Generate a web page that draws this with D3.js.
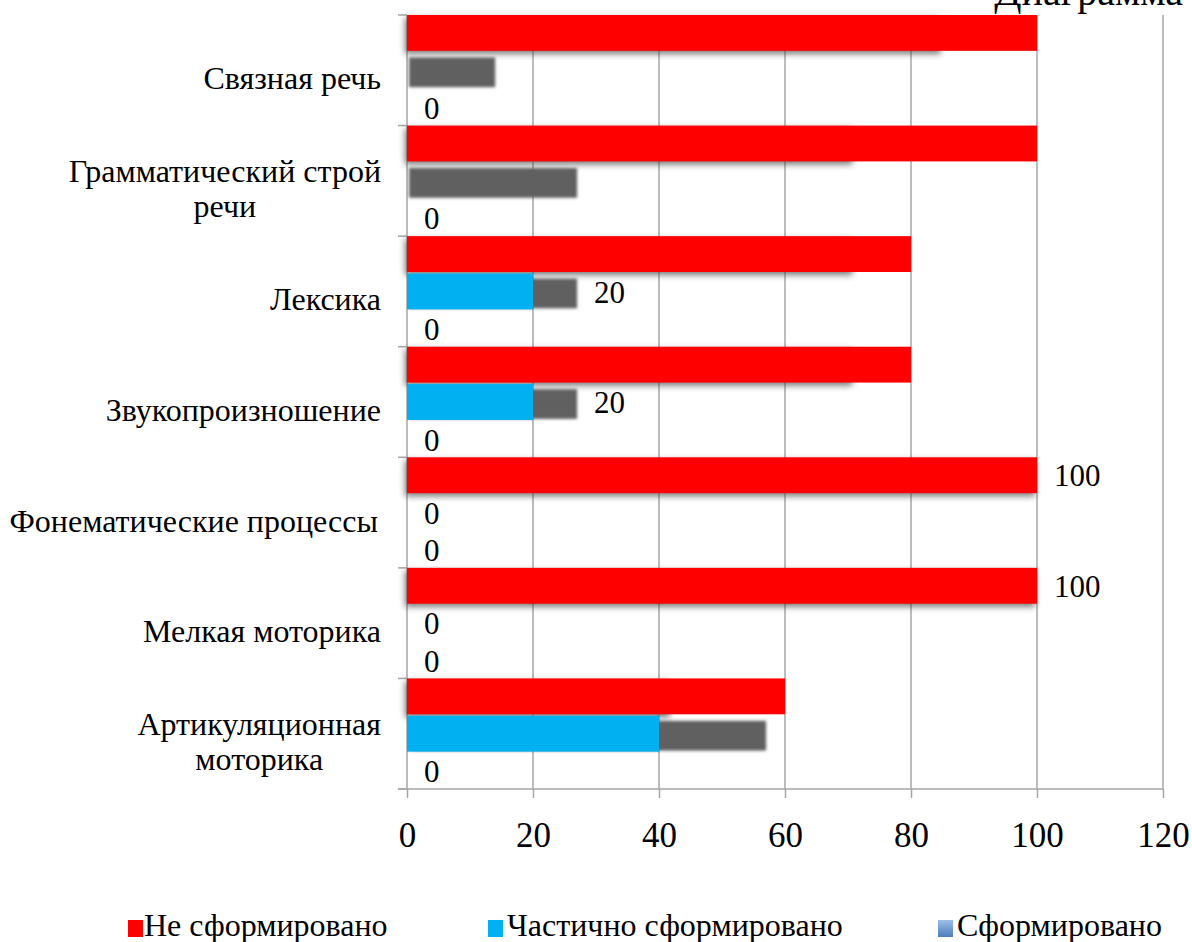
<!DOCTYPE html>
<html lang="ru">
<head>
  <meta charset="UTF-8">
  <title>Диаграмма</title>
  <script src="https://d3js.org/d3.v7.min.js"></script>
  <style>
    body { margin: 0; background: #fff; }
    svg { display: block; }
    svg text { font-family: "Liberation Serif", "Times New Roman", serif; }
  </style>
</head>
<body>
  <svg width="1192" height="942"></svg>
  <script>
    // categories in sheet order (first one is drawn at the bottom)
    const categories = [
      "Артикуляционная моторика",
      "Мелкая моторика",
      "Фонематические процессы",
      "Звукопроизношение",
      "Лексика",
      "Грамматический строй речи",
      "Связная речь"
    ];
    // how the category labels wrap
    const categoryLines = [
      ["Артикуляционная", "моторика"],
      ["Мелкая моторика"],
      ["Фонематические процессы"],
      ["Звукопроизношение"],
      ["Лексика"],
      ["Грамматический строй", "речи"],
      ["Связная речь"]
    ];
    const seriesNames = ["Не сформировано", "Частично сформировано", "Сформировано"];
    const notFormed = [60, 100, 100, 80, 80, 100, 100];
    const partlyFormed = [40, 0, 0, 20, 20, 0, 0];
    const formed = [0, 0, 0, 0, 0, 0, 0];
    // which data labels are visible in the picture
    const notFormedLabels = [false, true, true, false, false, false, false];
    const partlyFormedLabels = [false, true, true, true, true, false, false];
    const formedLabels = [true, true, true, true, true, true, true];
    // leftover shadows drawn behind bars
    const redShadow = [42, 100, 100, 71, 71, 71, 85];
    const grayShadow = [57, 0, 0, 27, 27, 27, 14];
    const xTicks = [0, 20, 40, 60, 80, 100, 120];

    const FONT = '"Liberation Serif", "Times New Roman", serif';

    const svg = d3.select("svg");
    const defs = svg.append("defs");

    const blurSoft = defs.append("filter").attr("id", "blurSoft")
      .attr("x", "-10%").attr("y", "-60%").attr("width", "120%").attr("height", "220%");
    blurSoft.append("feGaussianBlur").attr("stdDeviation", 3);

    const blurHard = defs.append("filter").attr("id", "blurHard")
      .attr("x", "-10%").attr("y", "-60%").attr("width", "120%").attr("height", "220%");
    blurHard.append("feGaussianBlur").attr("stdDeviation", 1.6);

    const grad = defs.append("linearGradient").attr("id", "formedGrad")
      .attr("x1", 0).attr("y1", 0).attr("x2", 0).attr("y2", 1);
    grad.append("stop").attr("offset", "0%").attr("stop-color", "#9dbfe8");
    grad.append("stop").attr("offset", "100%").attr("stop-color", "#4a7ebb");

    const colors = ["#ff0000", "#00b0f0", "url(#formedGrad)"];

    const x = d3.scaleLinear().domain([0, 120]).range([407, 1163]);
    const y = d3.scaleBand().domain(categories).range([789, 15]);
    const ys = d3.scaleBand().domain(seriesNames).range([0, y.bandwidth()]).paddingInner(0.04);

    const gridColor = "#a6a6a6";

    // vertical gridlines
    svg.append("g").selectAll("line").data(xTicks.slice(1)).join("line")
      .attr("x1", d => x(d)).attr("x2", d => x(d))
      .attr("y1", 15).attr("y2", 789)
      .attr("stroke", gridColor).attr("stroke-width", 1.5);

    // bottom axis
    const xAxis = svg.append("g")
      .attr("transform", "translate(0,789)")
      .call(d3.axisBottom(x).tickValues(xTicks).tickSize(9).tickPadding(24).tickSizeOuter(0))
      .attr("font-family", FONT).attr("font-size", 35);
    xAxis.select(".domain").remove();
    xAxis.selectAll(".tick line").attr("stroke", gridColor).attr("stroke-width", 1.5);
    xAxis.selectAll(".tick text").attr("fill", "#000");
    svg.append("line")
      .attr("x1", 398).attr("x2", x(120)).attr("y1", 789).attr("y2", 789)
      .attr("stroke", gridColor).attr("stroke-width", 1.5);

    // left axis with ticks between categories
    const bounds = categories.map(c => y(c)).concat([y(categories[0]) + y.bandwidth()]);
    svg.append("g").selectAll("line").data(bounds).join("line")
      .attr("x1", 398).attr("x2", x(0))
      .attr("y1", d => d).attr("y2", d => d)
      .attr("stroke", gridColor).attr("stroke-width", 1.5);
    svg.append("line")
      .attr("x1", x(0)).attr("x2", x(0)).attr("y1", 15).attr("y2", 789)
      .attr("stroke", gridColor).attr("stroke-width", 1.5);

    const rows = categories.map((c, i) => ({
      cat: c, i,
      values: [notFormed[i], partlyFormed[i], formed[i]],
      labels: [notFormedLabels[i], partlyFormedLabels[i], formedLabels[i]],
      shadows: [redShadow[i], grayShadow[i], 0]
    }));

    const groups = svg.append("g").selectAll("g").data(rows).join("g")
      .attr("transform", d => `translate(0,${y(d.cat)})`);

    const barH = ys.bandwidth();

    // soft shadow behind red bars
    groups.append("rect")
      .attr("x", x(0) - 2)
      .attr("y", ys(seriesNames[0]) + 3)
      .attr("width", d => x(d.shadows[0]) - x(0))
      .attr("height", barH)
      .attr("fill", "#404040").attr("opacity", 0.7)
      .attr("filter", "url(#blurSoft)");

    // dark gray shadow in the middle slot
    groups.filter(d => d.shadows[1] > 0).append("rect")
      .attr("x", x(0) + 2)
      .attr("y", ys(seriesNames[1]) + 5)
      .attr("width", d => x(d.shadows[1]) - x(0) - 2)
      .attr("height", barH - 6)
      .attr("fill", "#606060")
      .attr("filter", "url(#blurHard)");

    // bars
    seriesNames.forEach((s, k) => {
      groups.filter(d => d.values[k] > 0).append("rect")
        .attr("x", x(0))
        .attr("y", ys(s))
        .attr("width", d => x(d.values[k]) - x(0))
        .attr("height", barH)
        .attr("fill", colors[k]);
    });

    // data labels
    seriesNames.forEach((s, k) => {
      groups.filter(d => d.labels[k]).append("text")
        .attr("x", d => x(Math.max(d.values[k], d.shadows[k])) + 17)
        .attr("y", ys(s) + barH / 2)
        .attr("dy", "0.36em")
        .attr("font-family", FONT)
        .attr("font-size", 31)
        .attr("fill", "#000")
        .text(d => d.values[k]);
    });

    // category labels: block right-aligned, lines centred inside the block
    rows.forEach(r => {
      const lines = categoryLines[r.i];
      const labelRight = r.cat === "Фонематические процессы" ? 378 : 381;
      const cy = y(r.cat) + y.bandwidth() / 2;
      const g = svg.append("g");
      const texts = lines.map((ln, j) => g.append("text")
        .attr("y", cy + 19 + (j - (lines.length - 1) / 2) * 35)
        .attr("font-family", FONT)
        .attr("font-size", 32)
        .attr("fill", "#000")
        .attr("text-anchor", "middle")
        .text(ln));
      const widths = texts.map(t => t.node().getComputedTextLength());
      const blockW = d3.max(widths);
      texts.forEach(t => t.attr("x", labelRight - blockW / 2));
    });

    // title, mostly cut off at the top edge as in the source
    svg.append("text")
      .attr("x", 1183).attr("y", 5)
      .attr("text-anchor", "end")
      .attr("font-family", FONT)
      .attr("font-size", 40)
      .attr("fill", "#000")
      .text("Диаграмма");

    // legend
    const legendX = [128, 488, 938];
    const legend = svg.append("g").selectAll("g").data(seriesNames).join("g")
      .attr("transform", (d, k) => `translate(${legendX[k]},0)`);
    legend.append("rect")
      .attr("x", 0).attr("y", 920).attr("width", 15).attr("height", 17)
      .attr("fill", (d, k) => colors[k]);
    legend.append("text")
      .attr("x", (d, k) => k === 0 ? 16 : 19)
      .attr("y", 936)
      .attr("font-family", FONT)
      .attr("font-size", 32)
      .attr("fill", "#000")
      .text(d => d);
  </script>
</body>
</html>
